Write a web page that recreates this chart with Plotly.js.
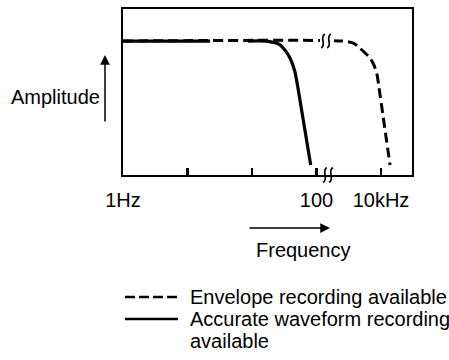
<!DOCTYPE html>
<html>
<head>
<meta charset="utf-8">
<script src="https://cdn.plot.ly/plotly-3.0.1.min.js"></script>
<style>html,body{margin:0;padding:0;background:#fff;}#chart{width:449px;height:360px;}</style>
</head>
<body>
<div id="chart"></div>
<script>
// ---- data (schematic units: one unit per tick interval on the frequency axis) ----
const tickVals = [0, 1, 2, 3, 4];
const tickText = ['1Hz', '', '', '100', '10kHz'];
const seriesNames = ['Envelope recording available', 'Accurate waveform recording available'];
const envelopeX = [0, 3.40, 3.57, 3.67, 3.83, 3.89, 3.94, 3.97, 4.14];
const envelopeY = [80.7, 80.7, 79.5, 76.5, 70.5, 66.3, 60.2, 52.4, 6];
const waveformX = [0, 1.35, null, 1.94, 2.22, 2.43, 2.56, 2.66, 2.71, 2.91];
const waveformY = [80.7, 80.7, null, 80.7, 80.6, 78.5, 72.5, 63, 53, 6];
const axisTitles = ['Amplitude', 'Frequency'];

// ---- layout geometry ----
const W = 449, H = 360;
const M = {l: 123, r: 37, t: 9, b: 185};
const PW = W - M.l - M.r, PH = H - M.t - M.b;
const FONT = '"Liberation Sans", Arial, Helvetica, sans-serif';
function px(x) { return (x - M.l) / PW; }
function py(y) { return (H - M.b - y) / PH; }

function squiggle(cx, cy, h) {
  const p = (x, y) => px(x).toFixed(5) + ',' + py(y).toFixed(5);
  return 'M' + p(cx + 1.8, cy - h) + ' C' + p(cx - 4, cy - h + 4) + ' ' + p(cx + 4, cy + h - 4) + ' ' + p(cx - 1.8, cy + h);
}

const traces = [
  {x: envelopeX, y: envelopeY, name: seriesNames[0], mode: 'lines', line: {color: '#000', width: 3, dash: '10px,5px', shape: 'spline', smoothing: 0.6}, hoverinfo: 'skip'},
  {x: waveformX, y: waveformY, name: seriesNames[1], mode: 'lines', line: {color: '#000', width: 3.2, shape: 'spline', smoothing: 0.6}, connectgaps: false, hoverinfo: 'skip'}
];

const shapes = [
  // break on the envelope line
  {type: 'rect', xref: 'paper', yref: 'paper', x0: px(320), x1: px(334), y0: py(36), y1: py(47), fillcolor: '#fff', line: {width: 0}, layer: 'above'},
  {type: 'path', xref: 'paper', yref: 'paper', path: squiggle(323, 41, 7), line: {color: '#000', width: 1.7}, layer: 'above'},
  {type: 'path', xref: 'paper', yref: 'paper', path: squiggle(329, 41, 7), line: {color: '#000', width: 1.7}, layer: 'above'},
  // break on the frequency axis
  {type: 'path', xref: 'paper', yref: 'paper', path: squiggle(325, 175, 7.5), line: {color: '#000', width: 1.7}, layer: 'above'},
  {type: 'path', xref: 'paper', yref: 'paper', path: squiggle(331, 175, 7.5), line: {color: '#000', width: 1.7}, layer: 'above'},
  // legend samples
  {type: 'line', xref: 'paper', yref: 'paper', x0: px(125), x1: px(178), y0: py(297), y1: py(297), line: {color: '#000', width: 2.5, dash: '10px,4px'}},
  {type: 'line', xref: 'paper', yref: 'paper', x0: px(125), x1: px(178), y0: py(319), y1: py(319), line: {color: '#000', width: 2.5}}
];

const txt = {family: FONT, size: 20, color: '#000'};
const annotations = [
  {xref: 'paper', yref: 'paper', x: px(55), y: py(97), text: axisTitles[0], showarrow: false, font: txt, xanchor: 'center', yanchor: 'middle'},
  {xref: 'paper', yref: 'paper', x: px(303), y: py(250), text: axisTitles[1], showarrow: false, font: txt, xanchor: 'center', yanchor: 'middle'},
  {xref: 'paper', yref: 'paper', x: px(105), y: py(55), ax: 0, ay: 68, text: '', showarrow: true, arrowhead: 2, arrowsize: 1.3, arrowwidth: 1.5, arrowcolor: '#000'},
  {xref: 'paper', yref: 'paper', x: px(330), y: py(228), ax: -82, ay: 0, text: '', showarrow: true, arrowhead: 2, arrowsize: 1.3, arrowwidth: 1.5, arrowcolor: '#000'},
  {xref: 'paper', yref: 'paper', x: px(188), y: py(297), text: 'Envelope recording available', showarrow: false, font: txt, xanchor: 'left', yanchor: 'middle'},
  {xref: 'paper', yref: 'paper', x: px(188), y: py(319), text: 'Accurate waveform recording', showarrow: false, font: txt, xanchor: 'left', yanchor: 'middle'},
  {xref: 'paper', yref: 'paper', x: px(188), y: py(341), text: 'available', showarrow: false, font: txt, xanchor: 'left', yanchor: 'middle'}
];

const layout = {
  width: W, height: H,
  margin: {l: M.l, r: M.r, t: M.t, b: M.b, pad: 0},
  paper_bgcolor: '#fff', plot_bgcolor: '#fff',
  showlegend: false,
  font: txt,
  xaxis: {range: [0, PW / 64.5], showgrid: false, zeroline: false, showline: true, mirror: true, linecolor: '#000', linewidth: 2,
          tickmode: 'array', tickvals: tickVals, ticktext: tickText, ticks: 'inside', ticklen: 7, tickwidth: 2.5, tickcolor: '#000',
          tickfont: txt, ticklabelstandoff: 6, fixedrange: true},
  yaxis: {range: [0, 100], showgrid: false, zeroline: false, showline: true, mirror: true, linecolor: '#000', linewidth: 2,
          showticklabels: false, ticks: '', fixedrange: true},
  shapes: shapes,
  annotations: annotations
};

Plotly.newPlot('chart', traces, layout, {staticPlot: true, displayModeBar: false});
</script>
</body>
</html>
